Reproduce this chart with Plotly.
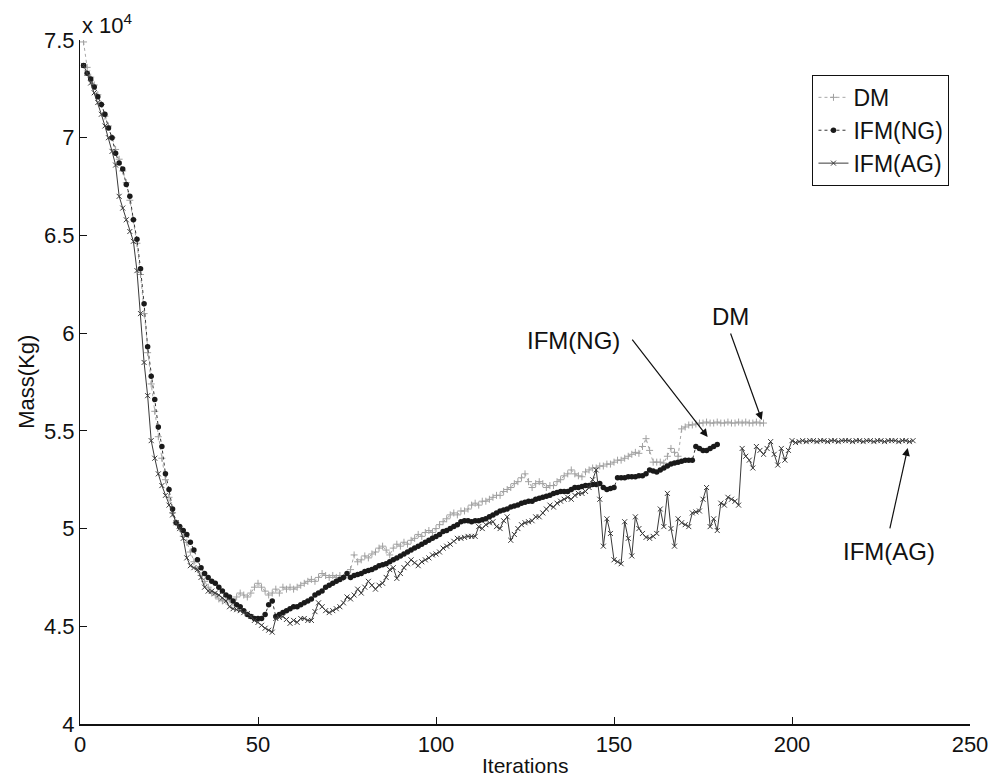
import plotly.graph_objects as go

# Mass values in units of 10^4 kg, one per iteration (starting at iteration 1)
dm_mass = [
    7.49, 7.36, 7.31, 7.27, 7.22, 7.17, 7.11, 7.06, 7.00, 6.94,
    6.89, 6.83, 6.77, 6.68, 6.58, 6.46, 6.30, 6.10, 5.90, 5.74,
    5.60, 5.47, 5.36, 5.25, 5.16, 5.08, 5.03, 5.00, 4.96, 4.93,
    4.88, 4.83, 4.79, 4.76, 4.73, 4.70, 4.67, 4.66, 4.64, 4.63,
    4.63, 4.64, 4.62, 4.65, 4.67, 4.66, 4.65, 4.67, 4.70, 4.72,
    4.70, 4.68, 4.66, 4.67, 4.69, 4.67, 4.70, 4.69, 4.70, 4.69,
    4.70, 4.71, 4.72, 4.73, 4.74, 4.73, 4.75, 4.77, 4.76, 4.75,
    4.76, 4.75, 4.76, 4.75, 4.76, 4.79, 4.865, 4.83, 4.84, 4.86,
    4.85, 4.87, 4.88, 4.90, 4.91, 4.89, 4.865, 4.90, 4.92, 4.91,
    4.93, 4.92, 4.94, 4.95, 4.97, 4.96, 4.98, 4.99, 4.98, 5.00,
    5.02, 5.035, 5.05, 5.07, 5.08, 5.07, 5.09, 5.09, 5.10, 5.12,
    5.13, 5.12, 5.14, 5.14, 5.15, 5.16, 5.17, 5.17, 5.19, 5.20,
    5.21, 5.23, 5.24, 5.26, 5.28, 5.24, 5.21, 5.23, 5.24, 5.23,
    5.21, 5.22, 5.22, 5.24, 5.25, 5.27, 5.28, 5.30, 5.28, 5.27,
    5.265, 5.29, 5.30, 5.31, 5.31, 5.32, 5.32, 5.33, 5.33, 5.34,
    5.35, 5.35, 5.36, 5.37, 5.38, 5.39, 5.385, 5.42, 5.46, 5.40,
    5.34, 5.34, 5.34, 5.335, 5.37, 5.41, 5.39, 5.37, 5.51, 5.52,
    5.53, 5.53, 5.535, 5.54, 5.54, 5.545, 5.54, 5.54, 5.545, 5.54,
    5.54, 5.545, 5.54, 5.54, 5.545, 5.54, 5.545, 5.54, 5.54, 5.545,
    5.54, 5.54,
]

ifm_ng_mass = [
    7.37, 7.33, 7.30, 7.26, 7.21, 7.17, 7.12, 7.05, 7.00, 6.92,
    6.87, 6.84, 6.76, 6.70, 6.58, 6.48, 6.33, 6.15, 5.93, 5.78,
    5.66, 5.52, 5.42, 5.28, 5.20, 5.10, 5.03, 5.01, 4.99, 4.97,
    4.93, 4.89, 4.84, 4.80, 4.77, 4.75, 4.73, 4.72, 4.70, 4.68,
    4.66, 4.65, 4.63, 4.61, 4.60, 4.58, 4.56, 4.55, 4.54, 4.54,
    4.54, 4.56, 4.61, 4.63, 4.55, 4.56, 4.57, 4.58, 4.59, 4.60,
    4.60, 4.61, 4.62, 4.63, 4.64, 4.66, 4.67, 4.68, 4.70, 4.71,
    4.72, 4.73, 4.74, 4.75, 4.77, 4.75, 4.76, 4.765, 4.77, 4.78,
    4.785, 4.79, 4.80, 4.81, 4.815, 4.82, 4.83, 4.84, 4.85, 4.86,
    4.87, 4.88, 4.89, 4.90, 4.91, 4.92, 4.93, 4.94, 4.95, 4.96,
    4.97, 4.985, 4.99, 5.00, 5.01, 5.02, 5.035, 5.04, 5.04, 5.035,
    5.04, 5.04, 5.045, 5.05, 5.06, 5.07, 5.08, 5.09, 5.095, 5.10,
    5.11, 5.115, 5.12, 5.13, 5.135, 5.14, 5.14, 5.15, 5.155, 5.16,
    5.165, 5.17, 5.18, 5.185, 5.19, 5.19, 5.19, 5.20, 5.21, 5.21,
    5.215, 5.22, 5.22, 5.225, 5.225, 5.23, 5.21, 5.20, 5.205, 5.21,
    5.26, 5.26, 5.26, 5.265, 5.265, 5.265, 5.27, 5.27, 5.28, 5.30,
    5.295, 5.29, 5.30, 5.31, 5.32, 5.33, 5.335, 5.34, 5.345, 5.35,
    5.35, 5.35, 5.42, 5.41, 5.40, 5.40, 5.41, 5.42, 5.43,
]

ifm_ag_mass = [
    7.37, 7.33, 7.28, 7.23, 7.18, 7.12, 7.06, 7.00, 6.93, 6.86,
    6.70, 6.64, 6.58, 6.52, 6.47, 6.32, 6.10, 5.85, 5.68, 5.45,
    5.36, 5.28, 5.22, 5.17, 5.12, 5.07, 5.03, 5.00, 4.95, 4.85,
    4.81, 4.80, 4.79, 4.75, 4.70, 4.68, 4.68, 4.67, 4.66, 4.645,
    4.63, 4.60, 4.59, 4.585, 4.58, 4.57, 4.565, 4.55, 4.53, 4.52,
    4.505, 4.49, 4.48, 4.47, 4.54, 4.545, 4.55, 4.535, 4.515, 4.53,
    4.52, 4.54, 4.54, 4.53, 4.53, 4.575, 4.62, 4.60, 4.58, 4.57,
    4.58, 4.59, 4.60, 4.62, 4.65, 4.64, 4.66, 4.69, 4.67, 4.70,
    4.73, 4.71, 4.69, 4.71, 4.72, 4.75, 4.79, 4.80, 4.745, 4.77,
    4.80, 4.82, 4.84, 4.825, 4.81, 4.83, 4.84, 4.85, 4.865, 4.87,
    4.88, 4.90, 4.91, 4.92, 4.935, 4.95, 4.95, 4.955, 4.96, 4.96,
    4.96, 5.01, 5.00, 5.02, 5.03, 5.035, 5.01, 5.00, 5.04, 5.06,
    4.94, 4.97, 5.00, 5.02, 5.03, 5.035, 5.04, 5.06, 5.06, 5.08,
    5.10, 5.12, 5.11, 5.13, 5.14, 5.15, 5.16, 5.15, 5.17, 5.18,
    5.18, 5.19, 5.21, 5.25, 5.30, 5.15, 4.91, 5.05, 4.975, 4.84,
    4.83, 4.82, 5.035, 4.95, 4.86, 5.06, 5.00, 4.975, 4.955, 4.95,
    4.96, 4.975, 5.10, 5.01, 5.18, 5.00, 4.91, 5.05, 5.03, 5.02,
    5.01, 5.08, 5.085, 5.09, 5.15, 5.21, 5.01, 5.05, 4.99, 5.13,
    5.12, 5.16, 5.15, 5.14, 5.12, 5.41, 5.37, 5.35, 5.31, 5.42,
    5.40, 5.38, 5.41, 5.445, 5.38, 5.325, 5.41, 5.35, 5.40, 5.45,
    5.44, 5.445, 5.45, 5.445, 5.45, 5.45, 5.445, 5.45, 5.45, 5.445,
    5.45, 5.45, 5.445, 5.45, 5.45, 5.45, 5.445, 5.45, 5.45, 5.445,
    5.45, 5.45, 5.445, 5.45, 5.45, 5.445, 5.45, 5.45, 5.45, 5.445,
    5.45, 5.45, 5.445, 5.45,
]

series_names = ["DM", "IFM(NG)", "IFM(AG)"]
x_ticks = [0, 50, 100, 150, 200, 250]
y_ticks = [4, 4.5, 5, 5.5, 6, 6.5, 7, 7.5]
y_tick_labels = ["4", "4.5", "5", "5.5", "6", "6.5", "7", "7.5"]

# annotation labels: (text, arrow head [iter, mass], arrow tail, text centre)
callouts = [
    ("IFM(NG)", (176.3, 5.469), (154.8, 5.975), (138.6, 5.96)),
    ("DM", (191.5, 5.556), (182.6, 6.006), (182.6, 6.083)),
    ("IFM(AG)", (232.5, 5.412), (227.4, 4.993), (227.2, 4.885)),
]

FONT = "Liberation Sans, Arial, Helvetica, sans-serif"

fig = go.Figure()

fig.add_trace(go.Scatter(
    x=list(range(1, len(dm_mass) + 1)), y=dm_mass, name=series_names[0],
    mode="lines+markers",
    line=dict(color="#a8a8a8", width=1, dash="dot"),
    marker=dict(symbol="cross-thin", size=5, color="#a0a0a0",
                line=dict(color="#a0a0a0", width=1)),
))
fig.add_trace(go.Scatter(
    x=list(range(1, len(ifm_ng_mass) + 1)), y=ifm_ng_mass, name=series_names[1],
    mode="lines+markers",
    line=dict(color="#333333", width=1, dash="dot"),
    marker=dict(symbol="circle", size=5.5, color="#1a1a1a"),
))
fig.add_trace(go.Scatter(
    x=list(range(1, len(ifm_ag_mass) + 1)), y=ifm_ag_mass, name=series_names[2],
    mode="lines+markers",
    line=dict(color="#3a3a3a", width=1),
    marker=dict(symbol="x-thin", size=5, color="#3a3a3a",
                line=dict(color="#3a3a3a", width=1)),
))

annotations = []
for text, head, tail, centre in callouts:
    annotations.append(dict(
        x=head[0], y=head[1], ax=tail[0], ay=tail[1],
        xref="x", yref="y", axref="x", ayref="y",
        text="", showarrow=True, arrowhead=2, arrowsize=1.3,
        arrowwidth=1.2, arrowcolor="#111111",
    ))
    annotations.append(dict(
        x=centre[0], y=centre[1], xref="x", yref="y", text=text,
        showarrow=False, xanchor="center", yanchor="middle",
        font=dict(family=FONT, size=24, color="#111111"),
    ))

annotations.append(dict(
    x=0, y=1.0, xref="paper", yref="paper", xanchor="left", yanchor="bottom",
    text="x 10<sup>4</sup>", showarrow=False,
    font=dict(family=FONT, size=22, color="#111111"),
))
annotations.append(dict(
    x=0.5, y=-0.060, xref="paper", yref="paper", xanchor="center", yanchor="middle",
    text="Iterations", showarrow=False,
    font=dict(family=FONT, size=21, color="#111111"),
))
annotations.append(dict(
    x=-0.061, y=0.5, xref="paper", yref="paper", xanchor="center", yanchor="middle",
    text="Mass(Kg)", showarrow=False, textangle=-90,
    font=dict(family=FONT, size=22, color="#111111"),
))

fig.update_layout(
    width=1000, height=780,
    margin=dict(l=80, r=22, t=40, b=56),
    paper_bgcolor="white", plot_bgcolor="white",
    font=dict(family=FONT, size=22, color="#111111"),
    showlegend=True,
    legend=dict(
        x=0.823, y=0.949, xanchor="left", yanchor="top",
        bgcolor="white", bordercolor="#111111", borderwidth=1,
        font=dict(family=FONT, size=23, color="#111111"),
        itemwidth=30,
    ),
    annotations=annotations,
)

fig.update_xaxes(
    range=[0, 250], tickvals=x_ticks, ticks="inside", ticklen=7,
    tickcolor="#111111", showline=True, linecolor="#111111", linewidth=1.5,
    showgrid=False, zeroline=False, mirror=False,
    tickfont=dict(family=FONT, size=22, color="#111111"),
)
fig.update_yaxes(
    range=[4, 7.5], tickvals=y_ticks, ticktext=y_tick_labels, ticks="inside",
    ticklen=7, tickcolor="#111111", showline=True, linecolor="#111111",
    linewidth=1, showgrid=False, zeroline=False, mirror=False,
    tickfont=dict(family=FONT, size=22, color="#111111"),
)

fig.write_html("out.html")
